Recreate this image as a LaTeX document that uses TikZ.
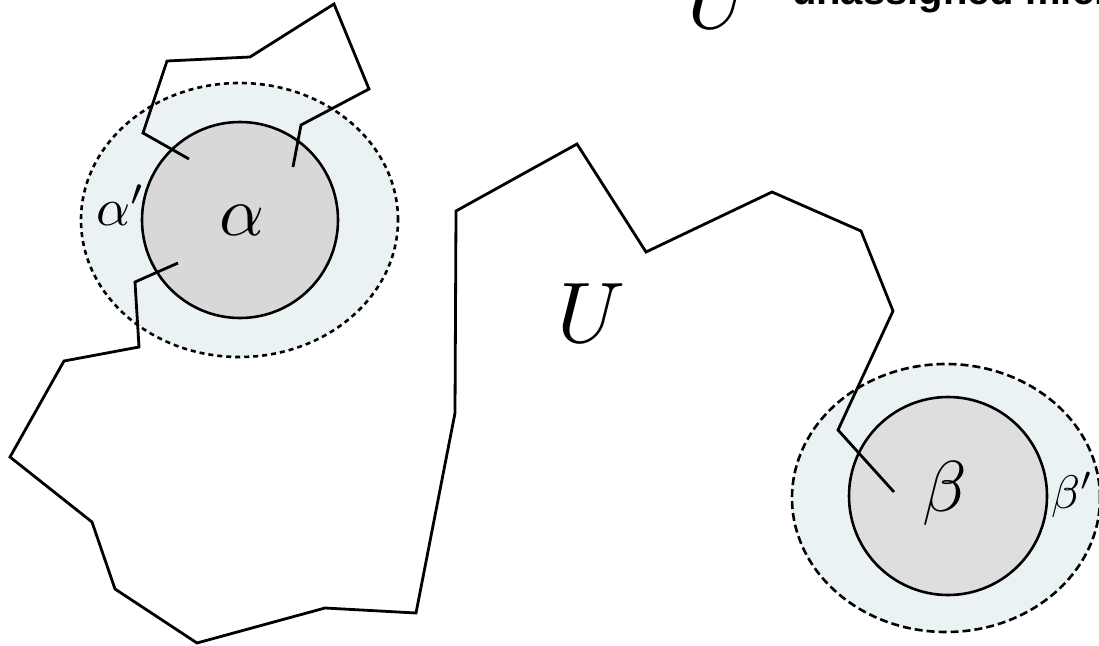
\documentclass[tikz,border=0pt]{standalone}
\usepackage{fontspec}
\newfontfamily\labelsans{Liberation Sans}
\usetikzlibrary{shapes.geometric}
\definecolor{haloblue}{HTML}{EAF2F4}
\definecolor{coregrey}{HTML}{D8D8D8}
\definecolor{coregreyb}{HTML}{DEDEDE}
\begin{document}
\begin{tikzpicture}[x=1pt,y=-1pt,
  halo/.style={ellipse, draw=black, line width=2.6pt, fill=haloblue, inner sep=0pt},
  core/.style={circle, draw=black, line width=2.6pt, inner sep=0pt, minimum size=196pt},
  wall/.style={draw=black, line width=2.8pt, line join=miter},
  sym/.style={inner sep=0pt, outer sep=0pt}
]
\useasboundingbox (0,0) rectangle (1099,645);
\clip (0,0) rectangle (1099,645);

% halos
\node[halo, dash pattern=on 5pt off 4pt, minimum width=317pt, minimum height=274pt] (alphahalo) at (239.5,220) {};
\node[halo, dash pattern=on 8pt off 4pt, minimum width=308pt, minimum height=268pt] (betahalo) at (946,498) {};

% cores
\node[core, fill=coregrey] (alphacore) at (240,220) {};
\node[core, fill=coregreyb, minimum size=198pt] (betacore) at (948,496) {};

% boundary of U (lower piece)
\draw[wall] (178,263) -- (135,282) -- (139,347) -- (64,361) -- (10,457) -- (92,522)
  -- (115,589) -- (197,643) -- (325,608) -- (416,613) -- (455,413) -- (456,211)
  -- (577,144) -- (646,252) -- (772,192) -- (861,231) -- (893,311) -- (838,430)
  -- (894,492);

% boundary of U (upper piece)
\draw[wall] (189,159) -- (143,133) -- (167,61) -- (250,57) -- (334,4) -- (369,89)
  -- (301,125) -- (293,167);

% labels
\node[sym] (alphalabel) at (242,220) {\scalebox{7}{$\alpha$}};
\node[sym, anchor=base west] (alphaprime) at (96,225) {\scalebox{5.3}{$\alpha'$}};
\node[sym, anchor=base] (ulabel) at (592,342) {\scalebox{8.6}{$U$}};
\node[sym, anchor=base] (betalabel) at (945,511) {\scalebox{7.2}{$\beta$}};
\node[sym, anchor=base west] (betaprime) at (1051,508) {\scalebox{4.7}{$\beta'$}};

% clipped header
\node[sym, anchor=base] (topu) at (722,28) {\scalebox{8.6}{$U$}};
\node[sym, anchor=base west] (toptext) at (792,5) {\labelsans\bfseries\fontsize{40}{40}\selectfont unassigned micro};
\end{tikzpicture}
\end{document}
